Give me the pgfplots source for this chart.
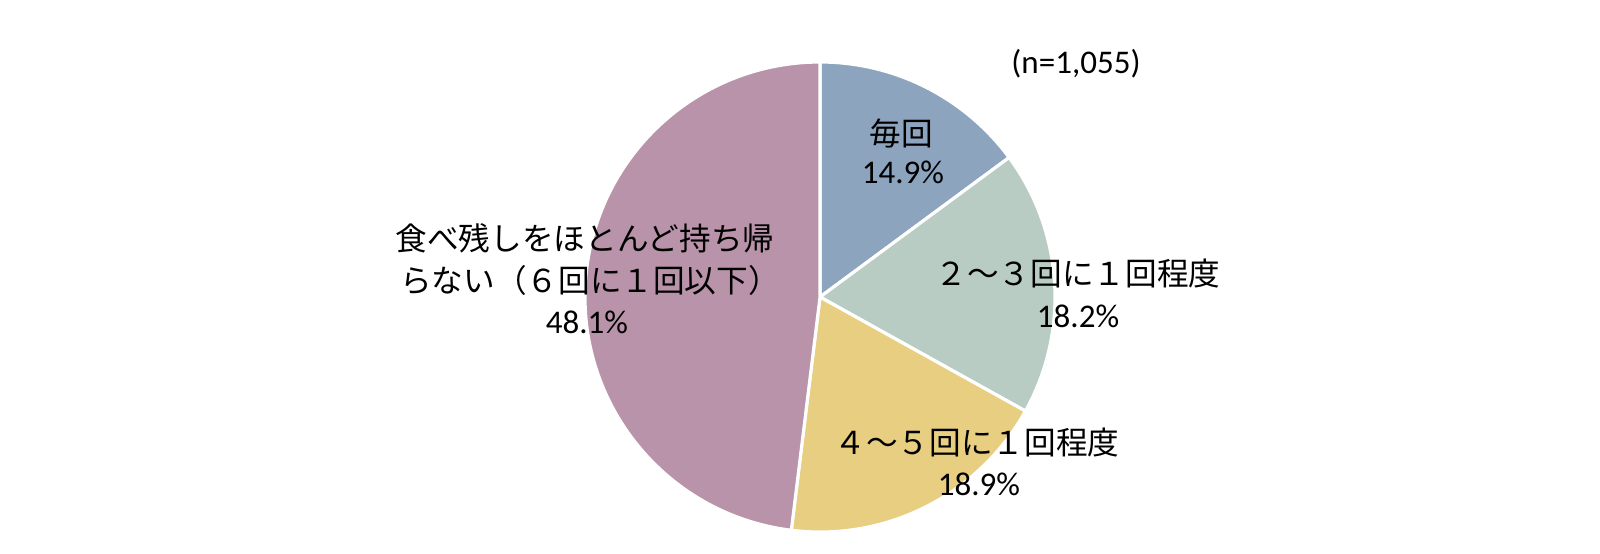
\documentclass[border=0pt]{standalone}
\usepackage{pgfplots}
\pgfplotsset{compat=1.18}
\usepackage{pgfplotstable}
\usepackage{fontspec}
\setmainfont{Carlito}
\newfontfamily\jp{Noto Sans CJK JP}

\definecolor{cMaikai}{HTML}{8DA4BF}
\definecolor{cNiSan}{HTML}{B8CCC3}
\definecolor{cYonGo}{HTML}{E8CE80}
\definecolor{cNokosu}{HTML}{B893A9}

\newcommand\jpf{\jp\fontsize{9pt}{10pt}\selectfont}
\newcommand\numf{\fontsize{9.4pt}{11pt}\selectfont}

% shares in percent, clockwise from 12 o'clock
\pgfplotstableread[col sep=comma]{
value,color
14.9,cMaikai
18.2,cNiSan
18.9,cYonGo
48.1,cNokosu
}\piedata

\begin{document}
\begin{tikzpicture}
\begin{axis}[
  width=16cm, height=5.53cm, scale only axis,
  xmin=0, xmax=1600, ymin=0, ymax=553,
  hide axis, clip=false,
]
\path (rel axis cs:0,0) rectangle (rel axis cs:1,1);
\def\cum{0}
\pgfplotsforeachungrouped \i in {0,...,3} {
  \pgfplotstablegetelem{\i}{value}\of\piedata
  \let\val\pgfplotsretval
  \pgfplotstablegetelem{\i}{color}\of\piedata
  \let\col\pgfplotsretval
  \pgfmathsetmacro\sa{90-3.6*\cum/1.001}
  \pgfmathsetmacro\cum{\cum+\val}
  \xdef\cum{\cum}
  \pgfmathsetmacro\ea{90-3.6*\cum/1.001}
  \edef\temp{\noexpand\fill[\col, draw=white, line width=0.9pt, line join=round]
    (axis cs:820,256) -- ++(\sa:2.35cm)
    arc[start angle=\sa, end angle=\ea, radius=2.35cm] -- cycle;}
  \temp
}

\node[anchor=base, inner sep=0, font=\numf] at (axis cs:1076,480) {(n=1,055)};

\node[anchor=base, inner sep=0, font=\jpf] at (axis cs:901,408) {毎回};
\node[anchor=base, inner sep=0, font=\numf] at (axis cs:903,370) {14.9\%};

\node[anchor=base, inner sep=0, font=\jpf] at (axis cs:1078,268) {２～３回に１回程度};
\node[anchor=base, inner sep=0, font=\numf] at (axis cs:1078,226) {18.2\%};

\node[anchor=base, inner sep=0, font=\jpf] at (axis cs:977,99) {４～５回に１回程度};
\node[anchor=base, inner sep=0, font=\numf] at (axis cs:979,58) {18.9\%};

\node[anchor=base, inner sep=0, font=\jpf] at (axis cs:585,303) {食べ残しをほとんど持ち帰};
\node[anchor=base, inner sep=0, font=\jpf] at (axis cs:590,261) {らない（６回に１回以下）};
\node[anchor=base, inner sep=0, font=\numf] at (axis cs:587,220) {48.1\%};
\end{axis}
\end{tikzpicture}
\end{document}
